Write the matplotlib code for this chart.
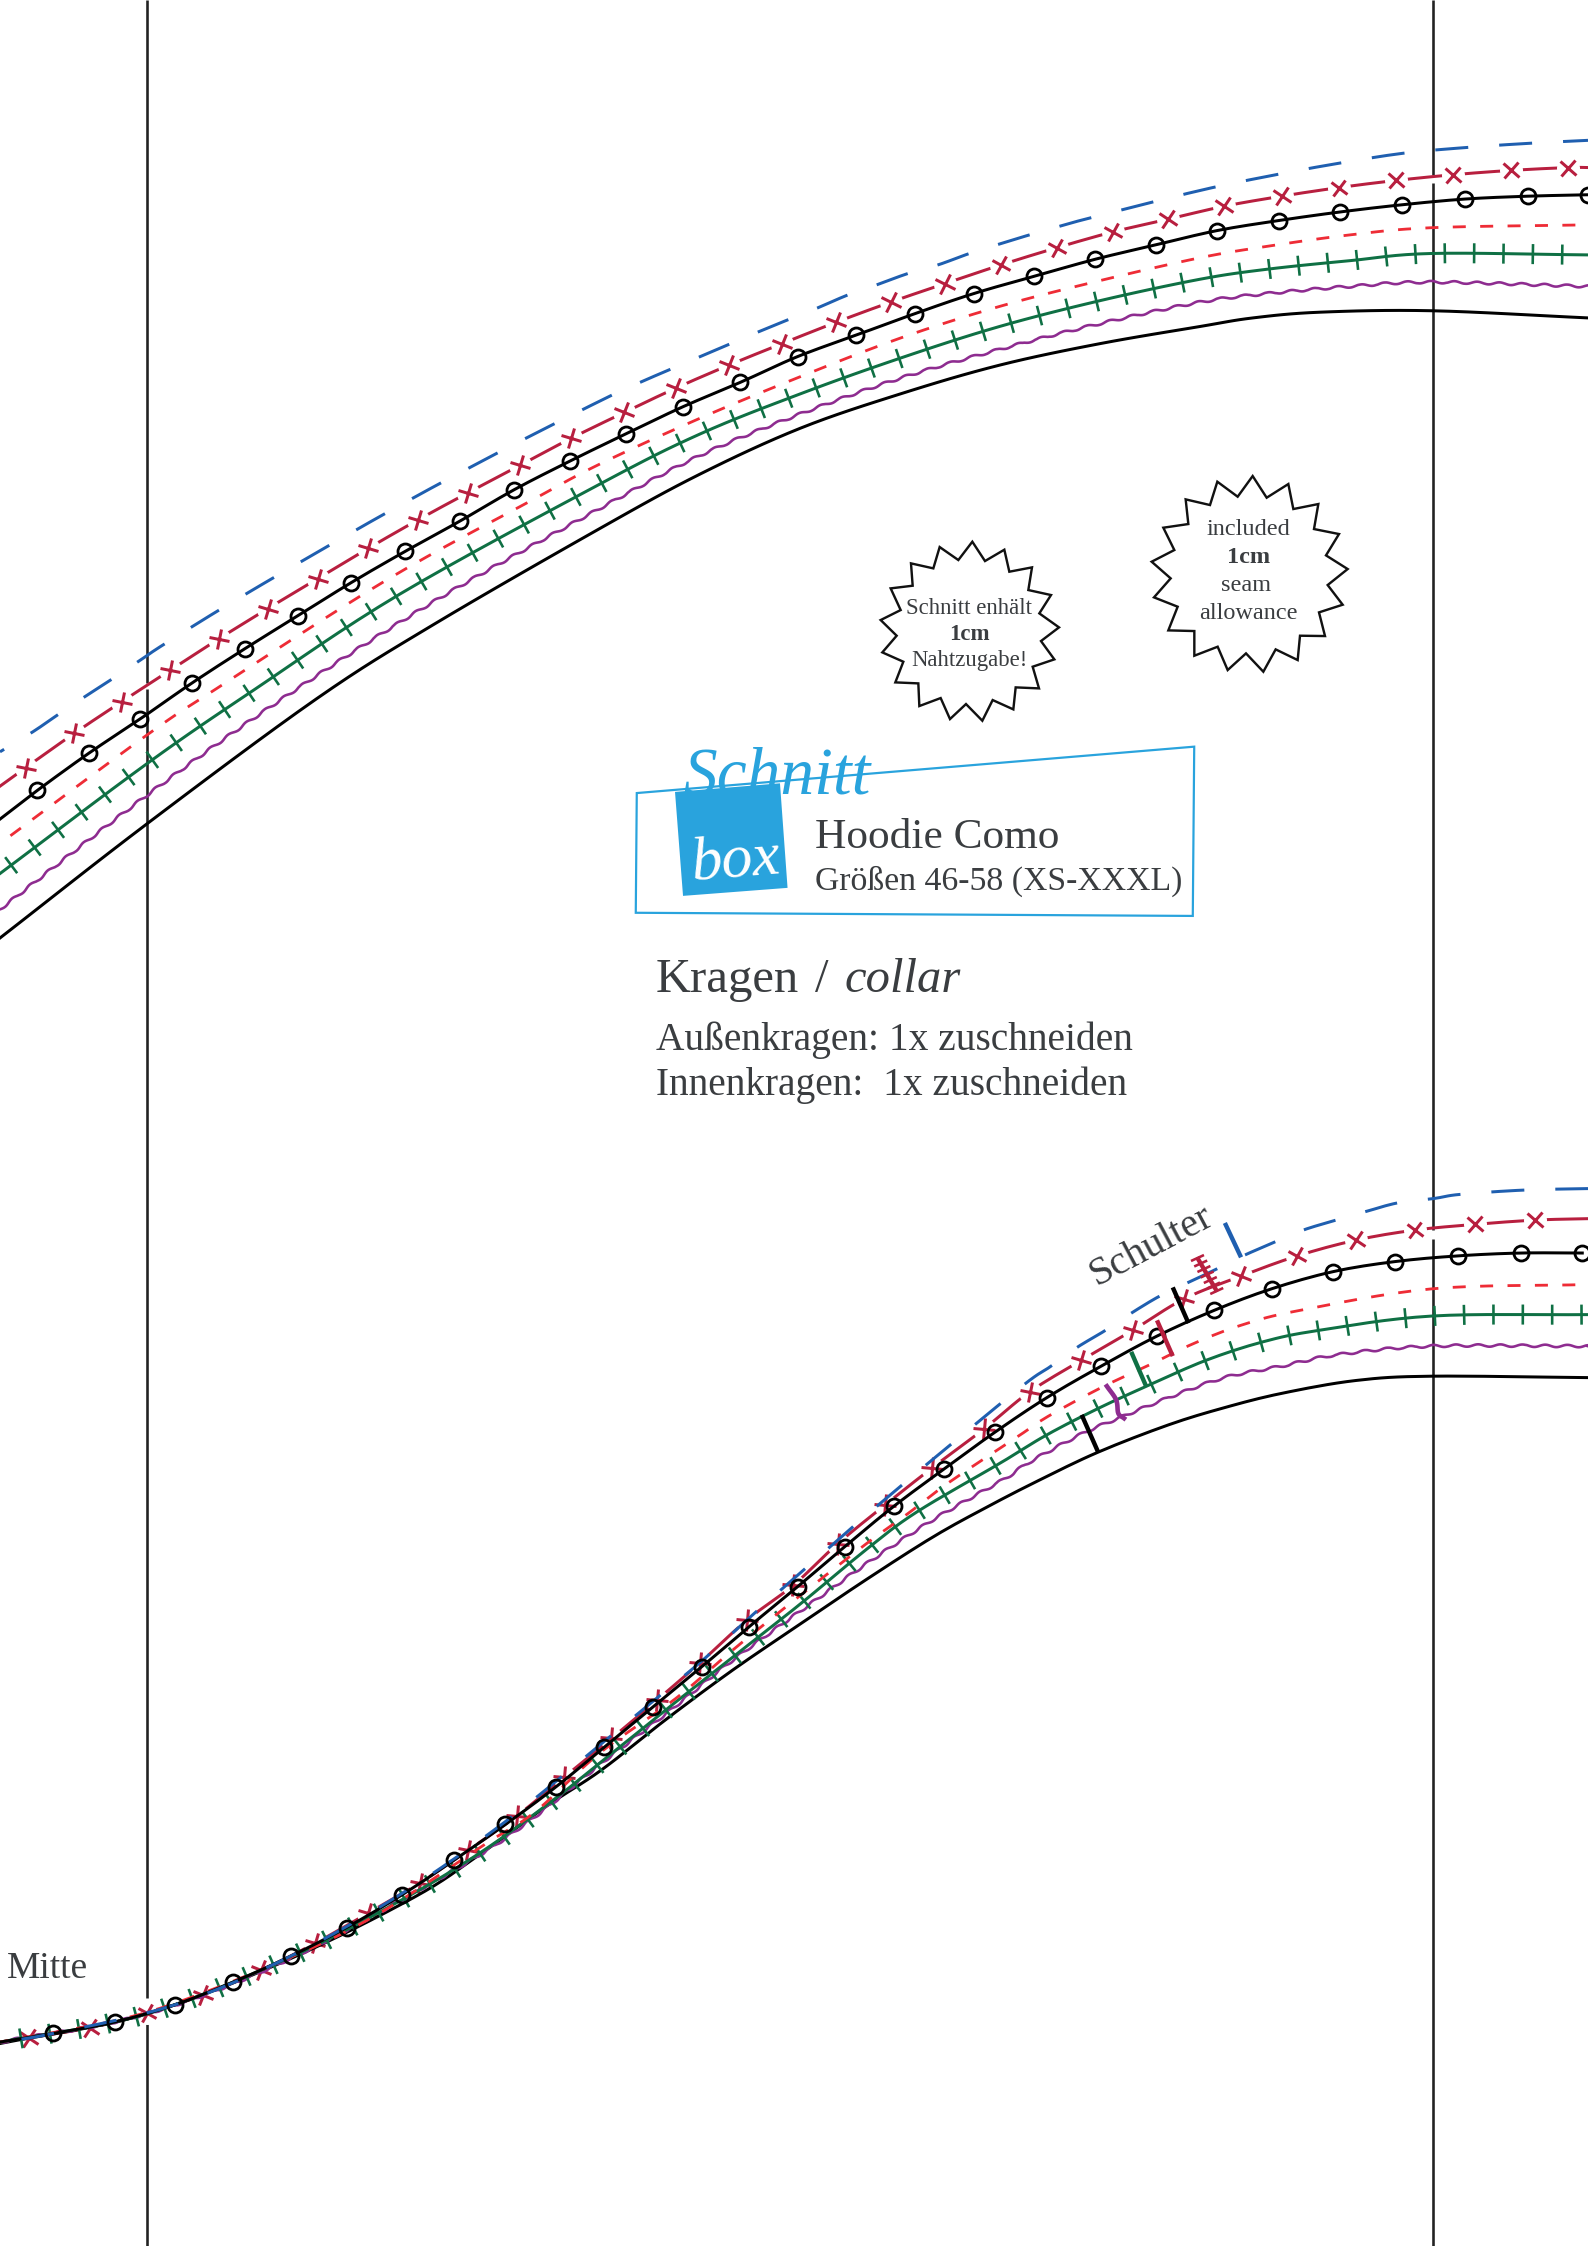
"""Pattern sheet: Hoodie Como, collar piece with the size lines."""
import numpy as np
import matplotlib
matplotlib.use("Agg")
import matplotlib.pyplot as plt
from matplotlib.markers import MarkerStyle
from matplotlib.patches import Polygon
from matplotlib.transforms import Affine2D

plt.rcParams["font.family"] = ["Liberation Serif", "DejaVu Serif"]
plt.rcParams["lines.scale_dashes"] = False

# all sheet values are in units of a 1109 wide sheet
SHEET_W, SHEET_H = 1109.0, 1568.4

# upper collar edge
top_blue_x = [0, 23, 42, 60, 77, 98, 116, 173, 270, 348, 419, 447, 489, 510, 529, 551, 571, 592, 612, 634, 655, 677, 696, 719, 740, 762, 838, 891, 935, 980, 1024, 1069, 1109]
top_blue_y = [525, 511, 498, 486, 475, 461, 449, 414, 358, 316, 280, 267, 249, 240, 232, 223, 215, 206, 199, 191, 185, 177, 171, 164, 158, 152, 133, 122, 114, 107, 103, 100, 98]
top_cross_x = [0, 18, 52, 85, 119, 153, 187, 222, 257, 292, 327, 363, 399, 436, 472, 509, 546, 584, 622, 660, 699, 738, 777, 816, 855, 895, 935, 975, 1015, 1055, 1095, 1109]
top_cross_y = [549, 536, 512, 490, 468, 446, 425, 404, 383, 363, 344, 325, 306, 288, 271, 255, 240, 225, 211, 198, 185, 173, 162, 153, 144, 137, 131, 126, 122, 119, 117, 117]
top_circle_x = [0, 26, 62, 98, 134, 171, 208, 245, 283, 321, 359, 398, 437, 477, 517, 557, 598, 639, 680, 722, 765, 807, 850, 893, 936, 979, 1023, 1067, 1109]
top_circle_y = [572, 552, 526, 502, 477, 453, 430, 407, 385, 364, 342, 322, 303, 284, 267, 249, 234, 219, 205, 193, 181, 171, 161, 154, 148, 143, 139, 137, 136]
top_dash_x = [0, 103, 151, 270, 372, 419, 489, 559, 629, 698, 768, 838, 885, 943, 1000, 1109]
top_dash_y = [589, 513, 481, 405, 349, 324, 292, 263, 236, 214, 196, 180, 172, 164, 159, 157]
top_green_x = [0, 103, 177, 279, 419, 489, 559, 629, 698, 768, 838, 885, 943, 1000, 1109]
top_green_y = [610, 533, 482, 415, 338, 303, 275, 250, 228, 210, 195, 188, 182, 177, 178]
top_purple_x = [0, 103, 197, 303, 419, 489, 559, 629, 698, 768, 838, 885, 943, 1000, 1109]
top_purple_y = [635, 555, 488, 420, 355, 318, 289, 264, 244, 226, 211, 205, 200, 197, 200]
top_edge_x = [0, 103, 221, 303, 419, 489, 559, 629, 698, 768, 838, 875, 922, 1000, 1109]
top_edge_y = [655, 575, 488, 436, 369, 331, 299, 275, 255, 240, 228, 222, 218, 217, 222]

# lower collar edge
low_blue_x = [0, 37, 122, 203, 281, 353, 422, 456, 490, 523, 557, 590, 624, 660, 715, 734, 752, 772, 790, 810, 829, 850, 868, 891, 910, 933, 954, 976, 1001, 1020, 1065, 1109]
low_blue_y = [1426, 1420, 1400, 1366, 1322, 1272, 1216, 1188, 1160, 1130, 1100, 1071, 1042, 1012, 967, 954, 941, 929, 917, 905, 896, 886, 877, 867, 859, 852, 846, 840, 837, 834, 831, 830]
low_cross_x = [0, 20, 63, 103, 142, 182, 220, 257, 293, 327, 361, 394, 427, 459, 489, 522, 554, 585, 618, 651, 687, 719, 755, 791, 827, 867, 906, 947, 988, 1030, 1072, 1109]
low_cross_y = [1426, 1423, 1416, 1406, 1393, 1376, 1357, 1336, 1315, 1292, 1268, 1241, 1214, 1187, 1161, 1131, 1107, 1078, 1051, 1025, 998, 972, 950, 929, 907, 891, 877, 866, 859, 855, 852, 851]
low_circle_x = [0, 37, 80, 122, 163, 203, 242, 281, 317, 353, 388, 422, 456, 490, 523, 557, 590, 624, 659, 695, 731, 769, 808, 848, 888, 931, 974, 1018, 1062, 1105]
low_circle_y = [1426, 1420, 1412, 1400, 1384, 1366, 1346, 1323, 1299, 1274, 1248, 1220, 1192, 1164, 1136, 1108, 1080, 1052, 1026, 1000, 976, 954, 933, 915, 900, 888, 881, 877, 875, 875]
low_dash_x = [0, 100, 200, 265, 340, 374, 419, 472, 512, 559, 605, 634, 663, 711, 732, 769, 803, 834, 868, 908, 1000, 1109]
low_dash_y = [1426, 1406, 1368, 1336, 1287, 1265, 1224, 1186, 1152, 1114, 1078, 1057, 1035, 1003, 989, 969, 953, 938, 925, 915, 900, 897]
low_green_x = [0, 100, 200, 280, 335, 385, 419, 465, 512, 559, 605, 640, 698, 731, 768, 803, 842, 882, 921, 1000, 1109]
low_green_y = [1426, 1407, 1368, 1327, 1294, 1258, 1231, 1194, 1157, 1120, 1082, 1056, 1022, 1002, 983, 967, 950, 937, 929, 919, 918]
low_purple_x = [0, 100, 200, 317, 369, 419, 466, 512, 559, 605, 652, 701, 719, 756, 782, 816, 855, 895, 934, 1000, 1109]
low_purple_y = [1426, 1407, 1369, 1306, 1272, 1232, 1196, 1159, 1125, 1092, 1061, 1033, 1021, 1001, 990, 976, 962, 954, 946, 940, 940]
low_edge_x = [0, 100, 200, 289, 335, 382, 420, 466, 512, 559, 605, 652, 690, 725, 767, 816, 855, 895, 947, 1000, 1109]
low_edge_y = [1427, 1407, 1369, 1325, 1295, 1261, 1236, 1200, 1166, 1134, 1103, 1073, 1052, 1034, 1014, 995, 983, 973, 964, 961, 962]

# grid lines, each as (x, segments of y)
grid_x = [102.6, 1000.5]
grid_spans = [[(0, 477), (481, 1395), (1406, SHEET_H)],
              [(0, 122), (128, 859), (865, SHEET_H)]]

# notch marks at the shoulder: start x, start y, end x, end y
notch_blue = [855.4, 854, 866.7, 878]
notch_black = [819, 899, 830, 924]
notch_red = [808, 922, 819, 947]
notch_green = [790, 944, 800.4, 968]
notch_edge = [755.4, 988, 766.9, 1014]
notch_hatch = [836, 878, 850, 902]
notch_purple_x = [773, 779.5, 781, 785]
notch_purple_y = [968, 977.6, 987, 990.4]

# starburst outlines, pixel offsets of a 3x crop at (850, 450)
star_left_x = [367, 405, 463, 478, 546, 535, 603, 568, 627, 573, 613, 548, 567, 497, 490, 428, 397, 348, 300, 272, 208, 205, 136, 160, 97, 140, 92, 152, 122, 188, 183, 250, 269, 325]
star_left_y = [275, 333, 299, 365, 352, 420, 435, 490, 532, 573, 628, 650, 715, 712, 778, 750, 812, 762, 807, 744, 768, 700, 697, 635, 607, 557, 510, 480, 415, 407, 340, 355, 291, 330]
star_right_x = [1208, 1250, 1315, 1330, 1405, 1392, 1467, 1428, 1493, 1433, 1478, 1407, 1425, 1350, 1343, 1277, 1240, 1188, 1133, 1103, 1033, 1033, 955, 983, 912, 962, 905, 973, 940, 1015, 1007, 1080, 1102, 1163]
star_right_y = [78, 143, 102, 177, 162, 237, 252, 316, 357, 405, 464, 487, 558, 557, 630, 598, 665, 610, 660, 590, 617, 543, 541, 470, 442, 385, 335, 300, 233, 222, 148, 165, 95, 140]

# logo
logo_box_x = [444.7, 834, 833, 444]
logo_box_y = [553.8, 521.4, 639.6, 637.4]
logo_square_x = [471.4, 544.7, 550, 477]
logo_square_y = [553, 547, 620, 625.6]

BLUE = "#1f5fb0"
RED = "#b81f3f"
LIGHT_RED = "#ee2c36"
GREEN = "#0f7044"
PURPLE = "#8e2c90"
INK = "#000000"
TEXT = "#3a3d40"
LOGO = "#29a3dd"
PX = 0.72  # one output pixel in points
UNIT_PX = 1588 / SHEET_W
TICK_STEP = 20.5
EVERY = 8


def soft(xs, ys):
    """Round the corners of a traced line, still passing through its points."""
    p = np.c_[xs, ys].astype(float)
    q = np.vstack([2 * p[0] - p[1], p, 2 * p[-1] - p[-2]])
    t = np.linspace(0, 1, EVERY, endpoint=False)[:, None]
    out = []
    for i in range(1, len(q) - 2):
        a, b, c, d = q[i - 1:i + 3]
        out.append(0.5 * (2 * b + (c - a) * t + (2 * a - 5 * b + 4 * c - d) * t ** 2
                          + (3 * b - a - 3 * c + d) * t ** 3))
    out.append(p[-1:])
    out = np.vstack(out)
    return out[:, 0], out[:, 1]


def arc(xs, ys):
    return np.r_[0, np.cumsum(np.hypot(np.diff(xs), np.diff(ys)))]


def dashes_from(xs, ys, raw_x, anchor_x, on, off, shift=0.0):
    """Dash style (in points) that has a dash starting at the vertex anchor_x of the line."""
    vertex = raw_x.index(anchor_x) * EVERY
    length = arc(xs, ys)[vertex] * UNIT_PX + shift
    period = on + off
    return ((period - length % period) % period * PX, (on * PX, off * PX))


def directions(xs, ys):
    """Screen angle of the line at each vertex, degrees."""
    return np.degrees(np.arctan2(-np.gradient(ys), np.gradient(xs)))


def walk(xs, ys, step, start):
    """Places at a fixed distance along a line, with their unit tangents."""
    s = arc(xs, ys)
    d = np.arange(start, s[-1], step)
    px, py = np.interp(d, s, xs), np.interp(d, s, ys)
    tx, ty = np.interp(d + 1, s, xs) - px, np.interp(d + 1, s, ys) - py
    n = np.hypot(tx, ty)
    n[n == 0] = 1
    return px, py, tx / n, ty / n


def draw_set(ax, blue, cross, circle, dash, green, purple, edge, blue_mark, tick_shift):
    ax.plot(*soft(*edge), color=INK, lw=3 * PX, zorder=6)
    wavy, = ax.plot(*soft(*purple), color=PURPLE, lw=2.6 * PX, zorder=6)
    wavy.set_sketch_params(scale=1.2, length=22, randomness=1)

    gx, gy = soft(*green)
    ax.plot(gx, gy, color=GREEN, lw=3 * PX, zorder=7)
    anchor = arc(gx, gy)[green[0].index(1000) * EVERY] + tick_shift
    for x, y, ux, uy in zip(*walk(gx, gy, TICK_STEP, anchor % TICK_STEP)):
        ax.plot([x - uy * 7, x + uy * 7], [y + ux * 7, y - ux * 7], color=GREEN,
                lw=2.6 * PX, zorder=7, solid_capstyle="butt")

    dx, dy = soft(*dash)
    ax.plot(dx, dy, color=LIGHT_RED, lw=2.8 * PX, dash_capstyle="butt", zorder=8,
            linestyle=dashes_from(dx, dy, dash[0], 1000, 13, 14.4, shift=-6.5))

    # the cross line stops short of every cross
    ax.plot(*soft(*cross), color=RED, lw=3 * PX, zorder=3)
    ax.plot(cross[0][1:-1], cross[1][1:-1], ls="none", marker="o", ms=23 * PX,
            mfc="white", mec="none", zorder=4)
    angles = directions(*cross)
    for x, y, a in zip(cross[0][1:-1], cross[1][1:-1], angles[1:-1]):
        m = MarkerStyle("x", transform=Affine2D().rotate_deg(a))
        ax.plot([x], [y], ls="none", marker=m, ms=15 * PX, mew=3 * PX, mec=RED, zorder=5)

    ax.plot(*soft(*circle), color=INK, lw=3 * PX, zorder=9)
    bx, by = soft(*blue)
    ax.plot(bx, by, color=BLUE, lw=3 * PX, dash_capstyle="butt", zorder=10,
            linestyle=dashes_from(bx, by, blue[0], blue_mark, 33, 31))
    ax.plot(circle[0][1:], circle[1][1:], ls="none", marker="o", ms=15 * PX, mew=2.8 * PX,
            mfc="none", mec=INK, zorder=11)


fig = plt.figure(figsize=(15.88, 22.46), dpi=100)
ax = fig.add_axes([0, 0, 1, 1])
ax.set_xlim(0, SHEET_W)
ax.set_ylim(SHEET_H, 0)
ax.axis("off")

for x, spans in zip(grid_x, grid_spans):
    for y0, y1 in spans:
        ax.plot([x, x], [y0, y1], color="#222222", lw=2.6 * PX, zorder=1, solid_capstyle="butt")

draw_set(ax, (top_blue_x, top_blue_y), (top_cross_x, top_cross_y), (top_circle_x, top_circle_y),
         (top_dash_x, top_dash_y), (top_green_x, top_green_y), (top_purple_x, top_purple_y),
         (top_edge_x, top_edge_y), 447, 9)
draw_set(ax, (low_blue_x, low_blue_y), (low_cross_x, low_cross_y), (low_circle_x, low_circle_y),
         (low_dash_x, low_dash_y), (low_green_x, low_green_y), (low_purple_x, low_purple_y),
         (low_edge_x, low_edge_y), 790, 2)

# shoulder notches
for notch, color in [(notch_blue, BLUE), (notch_black, INK), (notch_red, RED),
                     (notch_green, GREEN), (notch_edge, INK), (notch_hatch, RED)]:
    ax.plot(notch[0::2], notch[1::2], color=color, lw=4.4 * PX, zorder=12, solid_capstyle="butt")
ax.plot(*soft(notch_purple_x, notch_purple_y), color=PURPLE, lw=4.6 * PX, zorder=12)
hx0, hy0, hx1, hy1 = notch_hatch
for f in np.linspace(0.02, 0.98, 7):
    hx, hy = hx0 + (hx1 - hx0) * f, hy0 + (hy1 - hy0) * f
    ax.plot([hx - 3.7, hx + 3.7], [hy + 1.7, hy - 1.7], color=RED, lw=2.6 * PX, zorder=12)

# starbursts
for sx, sy in [(star_left_x, star_left_y), (star_right_x, star_right_y)]:
    px_x, px_y = 850 + np.array(sx) / 3, 450 + np.array(sy) / 3
    ax.add_patch(Polygon(np.c_[px_x, px_y] / UNIT_PX, closed=True, fc="white",
                         ec="#111111", lw=2.4 * PX, zorder=2))

star_lines = [
    (677, 425, "Schnitt enhält", 16.4, "normal"),
    (677, 443, "1cm", 16.4, "bold"),
    (677, 461, "Nahtzugabe!", 16.4, "normal"),
    (872, 369.5, "included", 17.5, "normal"),
    (872, 389.5, "1cm", 17.5, "bold"),
    (870, 409, "seam", 17.5, "normal"),
    (872, 428.5, "allowance", 17.5, "normal"),
]
for x, y, s, size, weight in star_lines:
    ax.text(x, y, s, ha="center", va="center", fontsize=size, fontweight=weight,
            color=TEXT, zorder=13)

# logo: the word Schnitt only shows above the frame
frame_top = np.array([[444.7, 553.8], [834, 521.4], [834, 400], [444.7, 400]])
clip = Polygon(frame_top, closed=True, transform=ax.transData, fc="none", ec="none")
ax.add_patch(clip)
schnitt = ax.text(477, 554, "Schnitt", fontsize=48.5, fontstyle="italic",
                  color=LOGO, va="baseline", zorder=3, clip_on=True)
schnitt.set_clip_path(clip)
ax.add_patch(Polygon(np.c_[logo_box_x, logo_box_y], closed=True, fc="none", ec=LOGO, lw=2.2 * PX, zorder=4))
ax.add_patch(Polygon(np.c_[logo_square_x, logo_square_y], closed=True, fc=LOGO, ec="none", zorder=5))
ax.text(484, 614.5, "box", fontsize=44.5, fontstyle="italic", color="white", rotation=4.5,
        rotation_mode="anchor", va="baseline", zorder=6)

ax.text(569, 592.5, "Hoodie Como", fontsize=31.2, color=TEXT, va="baseline")
ax.text(569, 621, "Größen 46-58 (XS-XXXL)", fontsize=24.3, color=TEXT, va="baseline")
ax.text(458, 692.5, "Kragen", fontsize=35, color=TEXT, va="baseline")
ax.text(569, 692.5, "/", fontsize=35, color=TEXT, va="baseline")
ax.text(590, 692.5, "collar", fontsize=35, fontstyle="italic", color=TEXT, va="baseline")
ax.text(458, 733, "Außenkragen: 1x zuschneiden", fontsize=28.4, color=TEXT, va="baseline")
ax.text(458, 764.5, "Innenkragen:  1x zuschneiden", fontsize=28.4, color=TEXT, va="baseline")
ax.text(804, 870, "Schulter", fontsize=29, color=TEXT, rotation=28, ha="center", va="center",
        rotation_mode="anchor")
ax.text(4.5, 1381, "Mitte", fontsize=27, color=TEXT, va="baseline")

fig.savefig("out.png", dpi=100, facecolor="white")
plt.close(fig)
